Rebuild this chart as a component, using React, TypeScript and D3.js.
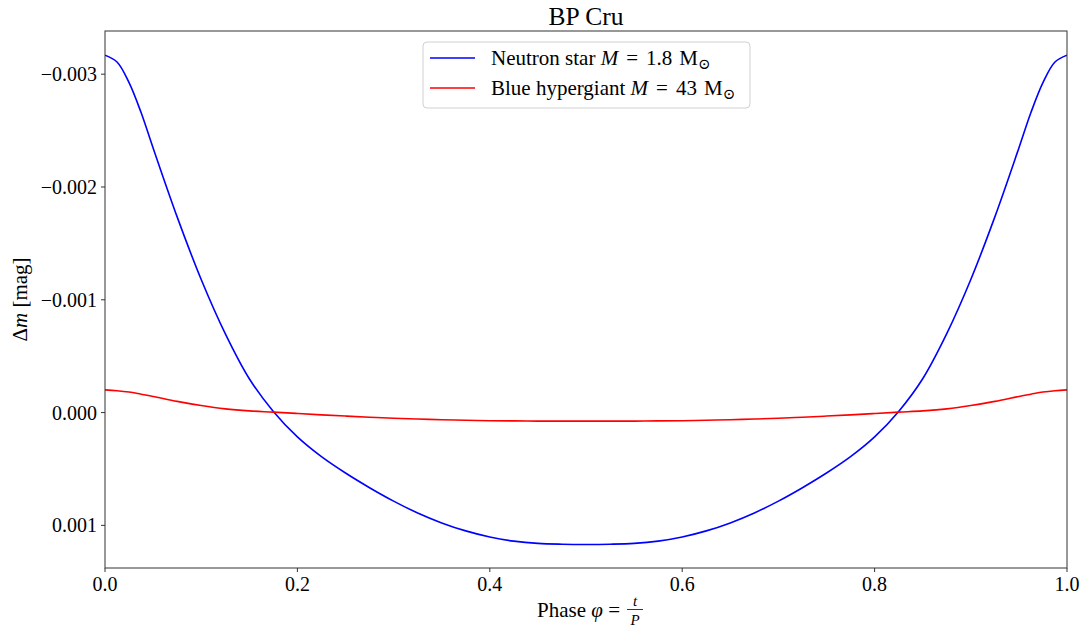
import { useMemo } from "react";
import * as d3 from "d3";

const WIDTH = 1083;
const HEIGHT = 630;
const MARGIN = { top: 31, right: 16, bottom: 62, left: 105 };

// phase grid (finer near the maxima)
const phases = [
  0, 0.0125, 0.025, 0.0375, 0.05, 0.075, 0.1, 0.125, 0.15, 0.175, 0.2, 0.225,
  0.25, 0.275, 0.3, 0.325, 0.35, 0.375, 0.4, 0.425, 0.45, 0.475, 0.5, 0.525,
  0.55, 0.575, 0.6, 0.625, 0.65, 0.675, 0.7, 0.725, 0.75, 0.775, 0.8, 0.825,
  0.85, 0.875, 0.9, 0.925, 0.95, 0.9625, 0.975, 0.9875, 1,
];

// Δm in units of 1e-3 mag
const neutronStar = [
  -3.168, -3.108, -2.925, -2.66, -2.346, -1.735, -1.18, -0.7, -0.3, -0.01,
  0.216, 0.391, 0.536, 0.666, 0.785, 0.89, 0.978, 1.049, 1.103, 1.14, 1.16,
  1.167, 1.169, 1.167, 1.16, 1.14, 1.103, 1.049, 0.978, 0.89, 0.785, 0.666,
  0.536, 0.391, 0.216, -0.01, -0.3, -0.7, -1.18, -1.735, -2.346, -2.66,
  -2.925, -3.108, -3.168,
];

const hypergiant = [
  -0.201, -0.194, -0.182, -0.163, -0.143, -0.099, -0.062, -0.033, -0.015,
  -0.004, 0.008, 0.02, 0.031, 0.041, 0.05, 0.057, 0.063, 0.068, 0.072, 0.074,
  0.0755, 0.076, 0.076, 0.076, 0.0755, 0.074, 0.072, 0.068, 0.063, 0.057, 0.05,
  0.041, 0.031, 0.02, 0.008, -0.004, -0.015, -0.033, -0.062, -0.099, -0.143,
  -0.163, -0.182, -0.194, -0.201,
];

const xTicks = [0, 0.2, 0.4, 0.6, 0.8, 1.0];
const yTicks = [-3, -2, -1, 0, 1];
const yDomain = [-3.383, 1.378];

const FONT = "'Liberation Serif', 'DejaVu Serif', serif";

const series = [
  { name: "Neutron star", mass: "1.8", color: "#0000ff", values: neutronStar },
  { name: "Blue hypergiant", mass: "43", color: "#ff0000", values: hypergiant },
];

const fmtX = (d: number) => d.toFixed(1);
const fmtY = (d: number) => {
  const s = (Math.abs(d) / 1000).toFixed(3);
  return d < 0 ? "\u2212" + s : s;
};

export default function App() {
  const innerW = WIDTH - MARGIN.left - MARGIN.right;
  const innerH = HEIGHT - MARGIN.top - MARGIN.bottom;

  const x = useMemo(() => d3.scaleLinear().domain([0, 1]).range([0, innerW]), [innerW]);
  const y = useMemo(
    () => d3.scaleLinear().domain(yDomain).range([0, innerH]),
    [innerH]
  );

  const line = d3
    .line<number>()
    .x((_, i) => x(phases[i]))
    .y((d) => y(d))
    .curve(d3.curveCatmullRom.alpha(0.5));

  const legendX = 423 - MARGIN.left;
  const legendY = 42 - MARGIN.top;

  return (
    <div style={{ position: "absolute", left: 0, top: 0 }}>
      <svg width={WIDTH} height={HEIGHT} style={{ display: "block", background: "#fff" }} fontFamily={FONT}>
        <text x={MARGIN.left + innerW / 2} y={25} textAnchor="middle" fontSize={25.5} fill="#000">
          BP Cru
        </text>
        <g transform={`translate(${MARGIN.left},${MARGIN.top})`}>
          <defs>
            <clipPath id="plot-clip">
              <rect x={0} y={0} width={innerW} height={innerH} />
            </clipPath>
          </defs>
          <g clipPath="url(#plot-clip)">
            {series.map((s) => (
              <path key={s.name} d={line(s.values) ?? ""} fill="none" stroke={s.color} strokeWidth={1.6} />
            ))}
          </g>

          {/* frame */}
          <rect x={0} y={0} width={innerW} height={innerH} fill="none" stroke="#333" strokeWidth={1} />

          {/* x ticks */}
          {xTicks.map((t) => (
            <g key={t} transform={`translate(${x(t)},${innerH})`}>
              <line y1={0} y2={4} stroke="#333" />
              <text y={23} textAnchor="middle" fontSize={20} fill="#000">
                {fmtX(t)}
              </text>
            </g>
          ))}

          {/* y ticks */}
          {yTicks.map((t) => (
            <g key={t} transform={`translate(0,${y(t)})`}>
              <line x1={-4} x2={0} stroke="#333" />
              <text x={-8} dy="0.35em" textAnchor="end" fontSize={20} fill="#000">
                {fmtY(t)}
              </text>
            </g>
          ))}

          {/* legend */}
          <g transform={`translate(${legendX},${legendY})`}>
            <rect x={0} y={0} width={327} height={66} rx={4} fill="#fff" fillOpacity={0.8} stroke="#d0d0d0" />
            {series.map((s, i) => (
              <g key={s.name} transform={`translate(0,${16 + i * 30})`}>
                <line x1={7} x2={52} stroke={s.color} strokeWidth={1.6} />
                <text x={68} dy="0.35em" fontSize={21} fill="#000">
                  {s.name} <tspan fontStyle="italic">M</tspan>
                  <tspan dx={8}>=</tspan>
                  <tspan dx={8}>{s.mass}</tspan>
                  <tspan dx={7}>M</tspan>
                  <tspan fontSize={15} dy={4}>{"\u2299"}</tspan>
                </text>
              </g>
            ))}
          </g>
        </g>

        {/* axis labels */}
        <text
          transform={`translate(27,${MARGIN.top + innerH / 2}) rotate(-90)`}
          textAnchor="middle"
          fontSize={21}
          fill="#000"
        >
          Δ<tspan fontStyle="italic">m</tspan> [mag]
        </text>
        <text x={620} y={617} textAnchor="end" fontSize={21} fill="#000">
          Phase <tspan fontStyle="italic">φ</tspan> =
        </text>
        <text x={635} y={606} textAnchor="middle" fontSize={15} fontStyle="italic" fill="#000">
          t
        </text>
        <line x1={627} x2={643} y1={609.5} y2={609.5} stroke="#000" strokeWidth={0.8} />
        <text x={635} y={625} textAnchor="middle" fontSize={15} fontStyle="italic" fill="#000">
          P
        </text>
      </svg>
    </div>
  );
}
